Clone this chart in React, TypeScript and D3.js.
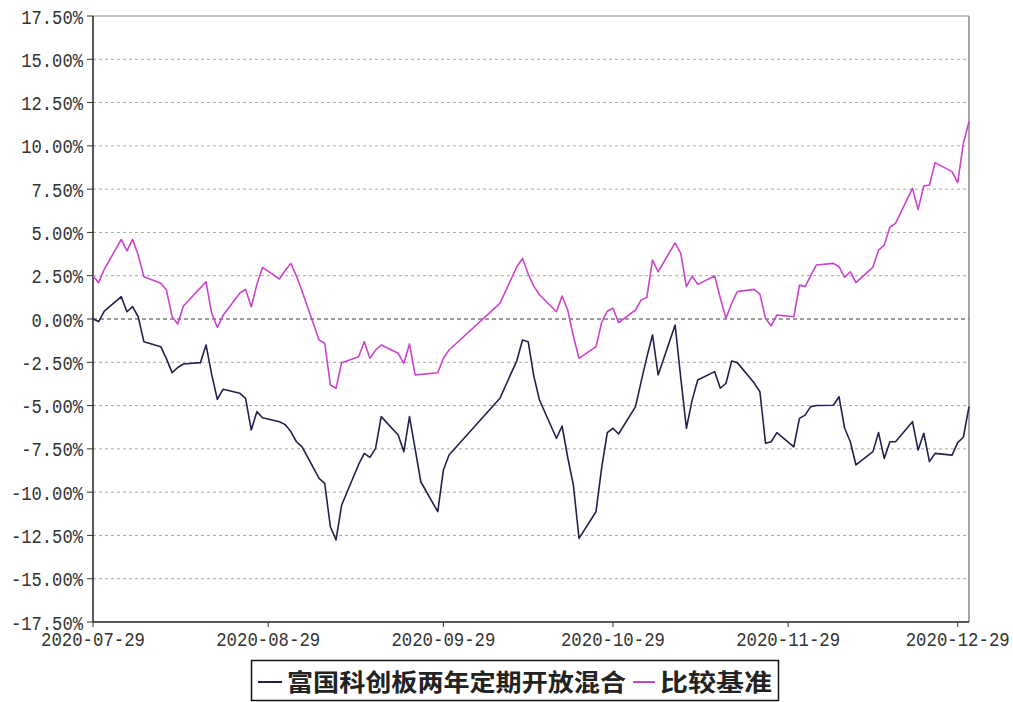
import React from "react";
import * as d3 from "d3";

const tradeDates: string[] = [
  "2020-07-29","2020-07-30","2020-07-31",
  "2020-08-03","2020-08-04","2020-08-05","2020-08-06","2020-08-07",
  "2020-08-10","2020-08-11","2020-08-12","2020-08-13","2020-08-14",
  "2020-08-17","2020-08-18","2020-08-19","2020-08-20","2020-08-21",
  "2020-08-24","2020-08-25","2020-08-26","2020-08-27","2020-08-28",
  "2020-08-31","2020-09-01","2020-09-02","2020-09-03","2020-09-04",
  "2020-09-07","2020-09-08","2020-09-09","2020-09-10","2020-09-11",
  "2020-09-14","2020-09-15","2020-09-16","2020-09-17","2020-09-18",
  "2020-09-21","2020-09-22","2020-09-23","2020-09-24","2020-09-25",
  "2020-09-28","2020-09-29","2020-09-30",
  "2020-10-09",
  "2020-10-12","2020-10-13","2020-10-14","2020-10-15","2020-10-16",
  "2020-10-19","2020-10-20","2020-10-21","2020-10-22","2020-10-23",
  "2020-10-26","2020-10-27","2020-10-28","2020-10-29","2020-10-30",
  "2020-11-02","2020-11-03","2020-11-04","2020-11-05","2020-11-06",
  "2020-11-09","2020-11-10","2020-11-11","2020-11-12","2020-11-13",
  "2020-11-16","2020-11-17","2020-11-18","2020-11-19","2020-11-20",
  "2020-11-23","2020-11-24","2020-11-25","2020-11-26","2020-11-27",
  "2020-11-30","2020-12-01","2020-12-02","2020-12-03","2020-12-04",
  "2020-12-07","2020-12-08","2020-12-09","2020-12-10","2020-12-11",
  "2020-12-14","2020-12-15","2020-12-16","2020-12-17","2020-12-18",
  "2020-12-21","2020-12-22","2020-12-23","2020-12-24","2020-12-25",
  "2020-12-28","2020-12-29","2020-12-30","2020-12-31",
];

const fundValues: number[] = [
  0.0, -0.15, 0.45,
  1.29, 0.42, 0.71, 0.13, -1.31,
  -1.6, -2.3, -3.1, -2.8, -2.6,
  -2.52, -1.5, -3.2, -4.64, -4.06,
  -4.29, -4.58, -6.41, -5.35, -5.7,
  -5.93, -6.1, -6.5, -7.09, -7.38,
  -9.2, -9.49, -12.0, -12.76, -10.74,
  -8.4, -7.76, -7.99, -7.47, -5.64,
  -6.7, -7.66, -5.64, -7.5, -9.4,
  -11.13, -8.72, -7.85,
  -4.58,
  -2.4, -1.21, -1.31, -3.3, -4.68,
  -6.89, -6.18, -8.0, -9.59, -12.67,
  -11.13, -8.6, -6.56, -6.31, -6.64,
  -5.06, -3.6, -2.2, -0.92, -3.23,
  -0.35, -3.4, -6.31, -4.7, -3.52,
  -3.04, -4.0, -3.71, -2.43, -2.52,
  -3.7, -4.2, -7.18, -7.09, -6.56,
  -7.38, -5.74, -5.55, -5.06, -5.0,
  -4.98, -4.49, -6.31, -7.09, -8.43,
  -7.66, -6.56, -8.05, -7.09, -7.09,
  -5.93, -7.57, -6.6, -8.24, -7.76,
  -7.86, -7.14, -6.83, -5.06,
];

const benchValues: number[] = [
  2.48, 2.1, 2.87,
  4.6, 3.94, 4.6, 3.7, 2.44,
  2.06, 1.67, 0.13, -0.29, 0.75,
  1.8, 2.15, 0.33, -0.48, 0.2,
  1.5, 1.71, 0.71, 2.0, 2.98,
  2.31, 2.8, 3.21, 2.48, 1.6,
  -1.21, -1.4, -3.81, -4.0, -2.52,
  -2.18, -1.31, -2.27, -1.8, -1.5,
  -1.98, -2.56, -1.44, -3.23, -3.2,
  -3.1, -2.27, -1.79,
  0.9,
  3.02, 3.5, 2.6, 1.9, 1.4,
  0.42, 1.33, 0.52, -1.0, -2.27,
  -1.6, -0.2, 0.45, 0.62, -0.21,
  0.52, 1.1, 1.25, 3.41, 2.73,
  4.4, 3.79, 1.87, 2.48, 2.0,
  2.48, 1.2, 0.04, 0.9, 1.58,
  1.71, 1.44, 0.04, -0.4, 0.23,
  0.13, 1.96, 1.87, 2.5, 3.12,
  3.21, 3.02, 2.41, 2.73, 2.1,
  3.0, 3.98, 4.27, 5.3, 5.52,
  7.54, 6.33, 7.68, 7.74, 9.03,
  8.51, 7.87, 10.15, 11.4,
];

const yTickValues: number[] = [-17.5, -15, -12.5, -10, -7.5, -5, -2.5, 0, 2.5, 5, 7.5, 10, 12.5, 15, 17.5];
const xTickLabels: string[] = ["2020-07-29", "2020-08-29", "2020-09-29", "2020-10-29", "2020-11-29", "2020-12-29"];
const xDomain: string[] = ["2020-07-29", "2020-12-31"];
const seriesNames: string[] = ["富国科创板两年定期开放混合", "比较基准"];
const seriesColors: string[] = ["#22224e", "#cc44cc"];

const W = 1013;
const H = 702;
const left = 93, right = 969, top = 16, bottom = 622;

export default function App() {
  const parse = d3.timeParse("%Y-%m-%d");
  const x = d3.scaleTime().domain(xDomain.map((s) => parse(s) as Date)).range([left, right]);
  const y = d3.scaleLinear().domain([-17.5, 17.5]).range([bottom, top]);
  const pts = tradeDates.map((d) => parse(d) as Date);
  const line = d3.line<[Date, number]>().x((d) => x(d[0])).y((d) => y(d[1]));
  const fundPath = line(pts.map((d, i) => [d, fundValues[i]] as [Date, number])) || "";
  const benchPath = line(pts.map((d, i) => [d, benchValues[i]] as [Date, number])) || "";
  const mono = "'Liberation Mono', 'DejaVu Sans Mono', monospace";
  const fmt = (v: number) => v.toFixed(2) + "%";

  return (
    <div style={{ position: "fixed", left: 0, top: 0, width: W, height: H, background: "#fff" }}>
      <svg width={W} height={H} style={{ display: "block" }}>
        <rect x={0} y={0} width={W} height={H} fill="#fff" />
        {yTickValues.map((v) => (
          <g key={"g" + v}>
            {v !== 0 && v !== 17.5 && v !== -17.5 && (
              <line x1={left} x2={right} y1={y(v)} y2={y(v)} stroke="#a8a8a8" strokeWidth={1} strokeDasharray="3,3" />
            )}
            <line x1={left - 6} x2={left} y1={y(v)} y2={y(v)} stroke="#333" strokeWidth={1} />
            <text
              x={83}
              y={y(v)}
              dy="0.36em"
              textAnchor="end"
              fontFamily={mono}
              fontSize={21}
              fill="#333"
              textLength={fmt(v).length * 10.3}
              lengthAdjust="spacingAndGlyphs"
            >
              {fmt(v)}
            </text>
          </g>
        ))}
        <line x1={left} x2={right} y1={y(0)} y2={y(0)} stroke="#3a3a3a" strokeWidth={1} strokeDasharray="4,3" />
        <line x1={left} x2={right} y1={top} y2={top} stroke="#888" strokeWidth={1} />
        <line x1={right} x2={right} y1={top} y2={bottom} stroke="#888" strokeWidth={1.5} />
        <line x1={left} x2={left} y1={top} y2={bottom} stroke="#222" strokeWidth={1.5} />
        <line x1={left} x2={right} y1={bottom} y2={bottom} stroke="#222" strokeWidth={1.5} />
        {xTickLabels.map((s) => {
          const xx = x(parse(s) as Date);
          return (
            <g key={s}>
              <line x1={xx} x2={xx} y1={bottom} y2={bottom + 5} stroke="#333" strokeWidth={1} />
              <text
                x={xx}
                y={bottom + 24}
                textAnchor="middle"
                fontFamily={mono}
                fontSize={21}
                fill="#333"
                textLength={s.length * 10.4}
                lengthAdjust="spacingAndGlyphs"
              >
                {s}
              </text>
            </g>
          );
        })}
        <path d={benchPath} fill="none" stroke={seriesColors[1]} strokeWidth={1.6} strokeLinejoin="round" />
        <path d={fundPath} fill="none" stroke={seriesColors[0]} strokeWidth={1.6} strokeLinejoin="round" />
        <rect x={251.5} y={660.5} width={527} height={40} fill="#fff" stroke="#111" strokeWidth={1.5} />
        <line x1={258} x2={282} y1={682} y2={682} stroke={seriesColors[0]} strokeWidth={2} />
        <text
          x={287}
          y={691}
          fontFamily="'Noto Sans CJK SC', sans-serif"
          fontWeight="bold"
          fontSize={24}
          fill="#222"
          textLength={339}
          lengthAdjust="spacingAndGlyphs"
        >
          {seriesNames[0]}
        </text>
        <line x1={633} x2={655} y1={682} y2={682} stroke={seriesColors[1]} strokeWidth={2} />
        <text
          x={660}
          y={691}
          fontFamily="'Noto Sans CJK SC', sans-serif"
          fontWeight="bold"
          fontSize={24}
          fill="#222"
          textLength={112}
          lengthAdjust="spacingAndGlyphs"
        >
          {seriesNames[1]}
        </text>
      </svg>
    </div>
  );
}
